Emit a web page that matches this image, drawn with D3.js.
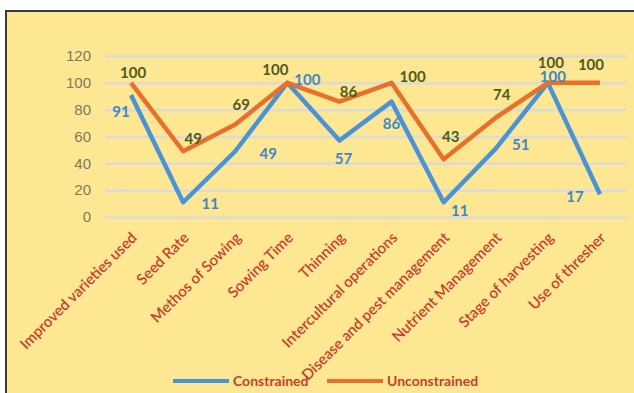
<!DOCTYPE html>
<html>
<head>
<meta charset="utf-8">
<script src="https://cdn.jsdelivr.net/npm/d3@7"></script>
<style>
  html, body { margin: 0; padding: 0; background: #fff; }
  svg { display: block; font-family: Lato, "Open Sans", sans-serif; }
</style>
</head>
<body>
<div id="chart"></div>
<script>
// Chart data
const categories = [
    'Improved varieties used', 'Seed Rate', 'Methos of Sowing', 'Sowing Time', 'Thinning',
    'Intercultural operations', 'Disease and pest management', 'Nutrient Management',
    'Stage of harvesting', 'Use of thresher'
];
const constrained = [91, 11, 49, 100, 57, 86, 11, 51, 100, 17];
const unconstrained = [100, 49, 69, 100, 86, 100, 43, 74, 100, 100];
const yTicks = [0, 20, 40, 60, 80, 100, 120];

// label nudges (px) so the values sit like the original
const constrainedOffsets = [[-10, 17], [27, 2], [33, 2], [20, -3], [4, 18], [0, 22], [16, 9], [25, -4], [5, -6], [-25, 3]];
const unconstrainedOffsets = [[2, -10], [10, -13], [6, -20], [-12, -13], [9, -10], [21, -6], [7, -23], [6, -23], [3, -20], [-9, -18]];

const W = 634, H = 393;
const margin = { left: 105, right: 8, top: 56, bottom: 176 };

const svg = d3.select('#chart').append('svg')
    .attr('width', W)
    .attr('height', H);

// Yellow panel with a dark frame on top and left
svg.append('rect')
    .attr('x', 6).attr('y', 11)
    .attr('width', W - 6).attr('height', H - 11)
    .attr('fill', '#fde792');
svg.append('path')
    .attr('d', `M6,${H}V11H${W}`)
    .attr('fill', 'none')
    .attr('stroke', '#3a3a3a')
    .attr('stroke-width', 2);

const x = d3.scalePoint()
    .domain(categories)
    .range([margin.left, W - margin.right])
    .padding(0.5);

const y = d3.scaleLinear()
    .domain([0, 120])
    .range([217, 56]);

// Gridlines + tick labels
const yAxis = svg.append('g')
    .attr('transform', `translate(${margin.left},0)`)
    .call(d3.axisLeft(y).tickValues(yTicks).tickSize(-(W - margin.right - margin.left)).tickPadding(14));
yAxis.select('.domain').remove();
yAxis.selectAll('.tick line')
    .attr('stroke', '#dcdad8')
    .attr('stroke-width', 2.5);
yAxis.selectAll('.tick text')
    .attr('fill', '#7d7860')
    .attr('font-size', 15);

// Category labels, rotated
svg.append('g')
    .selectAll('text')
    .data(categories)
    .join('text')
    .attr('transform', d => `translate(${x(d) + 3},${235}) rotate(-45)`)
    .attr('text-anchor', 'end')
    .attr('dy', '0.35em')
    .attr('fill', '#c8402a')
    .attr('font-size', 15)
    .attr('font-weight', 600)
    .text(d => d);

const line = d3.line()
    .x((d, i) => x(categories[i]))
    .y(d => y(d));

const series = [
    { name: 'Constrained', values: constrained, color: '#4a93d6', labelColor: '#3f87c9', offsets: constrainedOffsets },
    { name: 'Unconstrained', values: unconstrained, color: '#e8702a', labelColor: '#4f5b1c', offsets: unconstrainedOffsets }
];

series.forEach(s => {
    svg.append('path')
        .datum(s.values)
        .attr('d', line)
        .attr('fill', 'none')
        .attr('stroke', s.color)
        .attr('stroke-width', 4.5)
        .attr('stroke-linejoin', 'round');
});

series.forEach(s => {
    svg.append('g')
        .selectAll('text')
        .data(s.values)
        .join('text')
        .attr('x', (d, i) => x(categories[i]) + s.offsets[i][0])
        .attr('y', (d, i) => y(d) + s.offsets[i][1])
        .attr('text-anchor', 'middle')
        .attr('dy', '0.35em')
        .attr('fill', s.labelColor)
        .attr('font-size', 15)
        .attr('font-weight', 700)
        .text(d => d);
});

// Legend
const legend = svg.append('g').attr('transform', 'translate(173,381)');
const legendItems = [
    { name: 'Constrained', color: '#4a93d6', x: 0 },
    { name: 'Unconstrained', color: '#e8702a', x: 154 }
];
legendItems.forEach(it => {
    legend.append('line')
        .attr('x1', it.x).attr('x2', it.x + 56)
        .attr('y1', 0).attr('y2', 0)
        .attr('stroke', it.color)
        .attr('stroke-width', 4);
    legend.append('text')
        .attr('x', it.x + 60)
        .attr('dy', '0.35em')
        .attr('fill', '#c8402a')
        .attr('font-size', 14)
        .attr('font-weight', 700)
        .text(it.name);
});
</script>
</body>
</html>
